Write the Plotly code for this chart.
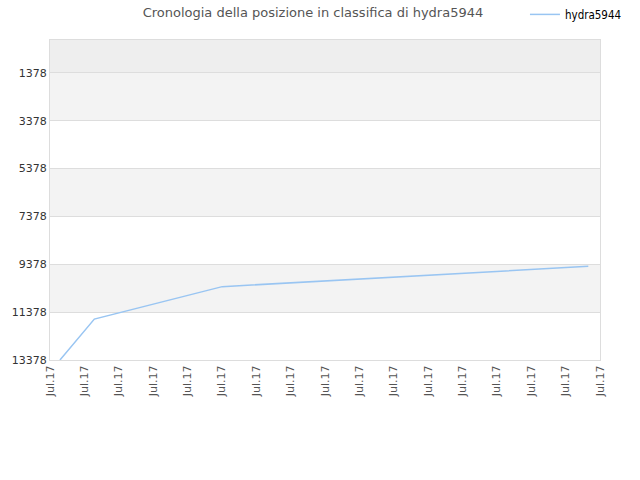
import plotly.graph_objects as go

# positions along the x axis (in tick units) and ranking values
x_pos = [0.29, 1.29, 5.01, 15.66]
ranks = [13378, 11670, 10311, 9461]

tick_vals = list(range(17))
tick_text = ["Jul.17"] * 17
y_ticks = [1378, 3378, 5378, 7378, 9378, 11378, 13378]
y_text = [str(v) for v in y_ticks]

fig = go.Figure()
fig.add_trace(
    go.Scatter(
        x=x_pos,
        y=ranks,
        mode="lines",
        name="hydra5944",
        line=dict(color="#99c5f2", width=1.5),
    )
)

# alternating background bands between grid lines
bands = [0] + y_ticks
for i in range(len(bands) - 1):
    if i == 0:
        col = "#eeeeee"
    elif i % 2 == 1:
        col = "#f3f3f3"
    else:
        col = "#ffffff"
    fig.add_shape(
        type="rect", xref="paper", yref="y", x0=0, x1=1,
        y0=bands[i], y1=bands[i + 1],
        fillcolor=col, line_width=0, layer="below",
    )

fig.update_layout(
    width=640,
    height=480,
    margin=dict(l=50, r=40, t=40, b=120, autoexpand=False),
    paper_bgcolor="white",
    plot_bgcolor="white",
    font=dict(family="DejaVu Sans", size=11, color="#555555"),
    title=dict(
        text="Cronologia della posizione in classifica di hydra5944",
        x=0.489, xanchor="center", y=0.974, yanchor="middle",
        font=dict(size=13, color="#555555"),
    ),
    legend=dict(
        x=1.049, xanchor="right", y=1.08, yanchor="middle",
        orientation="h",
        font=dict(size=11.5, color="#000000", family="DejaVu Sans Condensed"),
        bgcolor="rgba(0,0,0,0)",
    ),
    showlegend=True,
)
fig.update_xaxes(
    range=[0, 16],
    tickvals=tick_vals,
    ticktext=tick_text,
    tickangle=-90,
    showgrid=False,
    zeroline=False,
    showline=True,
    linecolor="#dddddd",
    mirror=True,
    ticks="",
    automargin=False,
    tickfont=dict(size=11, color="#555555"),
)
fig.update_yaxes(
    range=[13378, 0],
    tickvals=y_ticks,
    ticktext=y_text,
    showgrid=True,
    gridcolor="#dddddd",
    zeroline=False,
    showline=True,
    linecolor="#dddddd",
    mirror=True,
    ticks="",
    automargin=False,
    tickfont=dict(size=11, color="#333333"),
)

# drop the default page margin so the figure sits at the window's corner
fig.write_html(
    "out.html",
    config={"displayModeBar": False},
    post_script="document.body.style.margin='0';",
)
